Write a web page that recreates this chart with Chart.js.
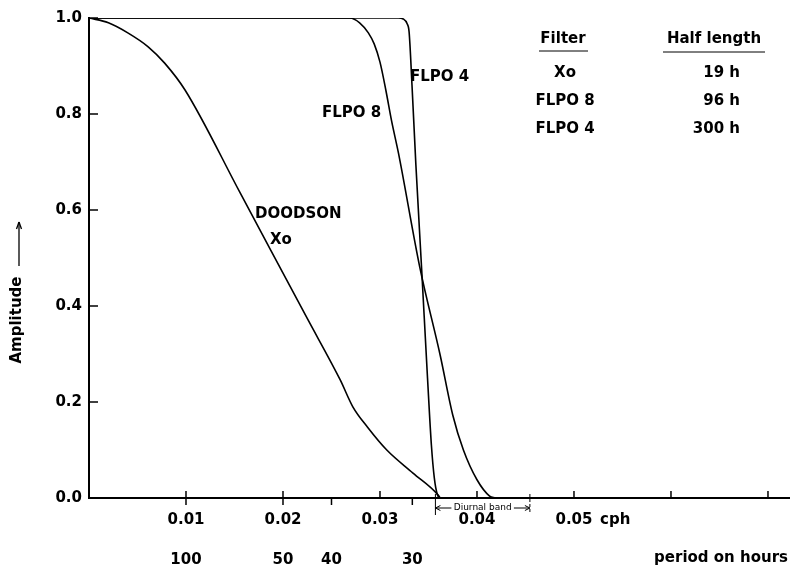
<!DOCTYPE html>
<html>
<head>
<meta charset="utf-8">
<script src="https://cdn.jsdelivr.net/npm/chart.js@4.4.0/dist/chart.umd.min.js"></script>
<style>
  body { margin: 0; background: #fff; }
</style>
</head>
<body>
<canvas id="myChart" width="790" height="567"></canvas>
<script>
// frequency in cph, amplitude 0..1
var doodson_f = [0, 0.0020, 0.0040, 0.0061, 0.0078, 0.0099, 0.0156, 0.0225, 0.0259, 0.0272, 0.0287, 0.0307, 0.0334, 0.0360, 0.0362]
var doodson_a = [1.0, 0.990, 0.969, 0.940, 0.906, 0.850, 0.635, 0.374, 0.246, 0.190, 0.148, 0.100, 0.052, 0.006, 0.0]

var flpo8_f = [0, 0.0269, 0.0279, 0.0288, 0.0294, 0.0300, 0.0306, 0.0312, 0.0319, 0.0341, 0.0362, 0.0375, 0.0386, 0.0400, 0.0413, 0.0419]
var flpo8_a = [1.0, 1.0, 0.990, 0.969, 0.946, 0.908, 0.850, 0.785, 0.719, 0.481, 0.298, 0.173, 0.100, 0.038, 0.004, 0.0]

var flpo4_f = [0, 0.0319, 0.0324, 0.0328, 0.0330, 0.0333, 0.0337, 0.0343, 0.0349, 0.0353, 0.0356, 0.0359, 0.0362]
var flpo4_a = [1.0, 1.0, 0.998, 0.988, 0.971, 0.860, 0.694, 0.475, 0.250, 0.110, 0.042, 0.008, 0.0]

var freqTicks = [0.01, 0.02, 0.03, 0.04, 0.05, 0.06, 0.07]
var freqLabels = ['0.01', '0.02', '0.03', '0.04', '0.05']
var periodHours = [100, 50, 40, 30]
var ampTicks = [0.2, 0.4, 0.6, 0.8, 1.0]
var diurnalBand = [28, 22]  // hours

var filterNames = ['Xo', 'FLPO 8', 'FLPO 4']
var halfLengths = ['19 h', '96 h', '300 h']

var FONT = '"DejaVu Sans", sans-serif'

function pts(f, a) {
  return f.map(function (v, i) { return { x: v, y: a[i] } })
}

function curve(f, a) {
  return {
    data: pts(f, a),
    showLine: true,
    borderColor: '#000',
    borderWidth: 1.6,
    pointRadius: 0,
    cubicInterpolationMode: 'monotone',
    fill: false
  }
}

var extras = {
  id: 'extras',
  afterDraw: function (chart) {
    var ctx = chart.ctx
    var xs = chart.scales.x
    var ys = chart.scales.y
    var base = ys.getPixelForValue(0)
    var left = xs.getPixelForValue(0)

    function seg(x1, y1, x2, y2) {
      ctx.beginPath(); ctx.moveTo(x1, y1); ctx.lineTo(x2, y2); ctx.stroke()
    }
    function txt(s, x, y, size, align, weight) {
      ctx.font = (weight || 'bold') + ' ' + size + 'px ' + FONT
      ctx.textAlign = align || 'center'
      ctx.textBaseline = 'middle'
      ctx.fillText(s, x, y)
    }

    ctx.save()
    ctx.strokeStyle = '#000'
    ctx.fillStyle = '#000'
    ctx.lineWidth = 1.5

    // frequency ticks point up, period ticks point down
    freqTicks.forEach(function (v) {
      var px = xs.getPixelForValue(v)
      seg(px, base, px, base - 7)
    })
    periodHours.forEach(function (h) {
      var px = xs.getPixelForValue(1 / h)
      seg(px, base, px, base + 7)
      txt(String(h), px, 560, 15)
    })
    ampTicks.forEach(function (v) {
      var py = ys.getPixelForValue(v)
      seg(left, py, left + 9, py)
    })

    txt('cph', 600, 520, 15, 'left')
    txt('period on hours', 788, 558, 15, 'right')

    // diurnal band
    var b1 = xs.getPixelForValue(1 / diurnalBand[0])
    var b2 = xs.getPixelForValue(1 / diurnalBand[1])
    ctx.lineWidth = 1
    seg(b1, base - 4, b1, base + 17)
    ctx.setLineDash([3, 2])
    seg(b2, base - 4, b2, base + 15)
    ctx.setLineDash([])
    var ay = 508
    seg(b1, ay, b1 + 16, ay)
    seg(b1, ay, b1 + 5, ay - 2.5); seg(b1, ay, b1 + 5, ay + 2.5)
    seg(b2 - 16, ay, b2, ay)
    seg(b2, ay, b2 - 5, ay - 2.5); seg(b2, ay, b2 - 5, ay + 2.5)
    txt('Diurnal band', (b1 + b2) / 2, ay, 9, 'center', 'normal')

    // curve labels
    txt('FLPO 4', 410, 77, 15, 'left')
    txt('FLPO 8', 322, 113, 15, 'left')
    txt('DOODSON', 255, 214, 15, 'left')
    txt('Xo', 270, 240, 15, 'left')

    // table
    txt('Filter', 563, 39, 15)
    txt('Half length', 714, 39, 15)
    ctx.lineWidth = 1
    seg(539, 51, 588, 51)
    seg(663, 52, 765, 52)
    filterNames.forEach(function (n, i) {
      txt(n, 565, 73 + i * 28, 15)
      txt(halfLengths[i], 740, 73 + i * 28, 15, 'right')
    })

    // y axis title with arrow
    ctx.save()
    ctx.translate(17, 320)
    ctx.rotate(-Math.PI / 2)
    txt('Amplitude', 0, 0, 15)
    ctx.restore()
    ctx.lineWidth = 1.3
    seg(19, 266, 19, 222)
    seg(19, 222, 16.5, 229); seg(19, 222, 21.5, 229)

    ctx.restore()
  }
}

var ctx = document.getElementById('myChart').getContext('2d')
var myChart = new Chart(ctx, {
  type: 'scatter',
  data: {
    datasets: [
      curve(doodson_f, doodson_a),
      curve(flpo8_f, flpo8_a),
      curve(flpo4_f, flpo4_a)
    ]
  },
  options: {
    responsive: false,
    animation: false,
    layout: { padding: { top: 18, right: 0, left: 0, bottom: 0 } },
    plugins: {
      legend: { display: false },
      tooltip: { enabled: false }
    },
    scales: {
      x: {
        type: 'linear',
        min: 0,
        max: 0.07227,
        afterFit: function (s) {
          s.height = 69
          s.paddingLeft = 0
          s.paddingRight = 0
        },
        grid: { drawOnChartArea: false, drawTicks: false },
        border: { color: '#000', width: 2 },
        ticks: {
          stepSize: 0.01,
          padding: 13,
          color: '#000',
          font: { family: FONT, size: 15, weight: 'bold' },
          callback: function (v) {
            var s = Number(v).toFixed(2)
            return freqLabels.indexOf(s) >= 0 ? s : ''
          }
        }
      },
      y: {
        min: 0,
        max: 1,
        afterFit: function (s) {
          s.width = 89
          s.paddingTop = 0
          s.paddingBottom = 0
        },
        grid: { drawOnChartArea: false, drawTicks: false },
        border: { color: '#000', width: 2 },
        ticks: {
          stepSize: 0.2,
          padding: 7,
          color: '#000',
          font: { family: FONT, size: 15, weight: 'bold' },
          callback: function (v) { return Number(v).toFixed(1) }
        }
      }
    }
  },
  plugins: [extras]
})
</script>
</body>
</html>
